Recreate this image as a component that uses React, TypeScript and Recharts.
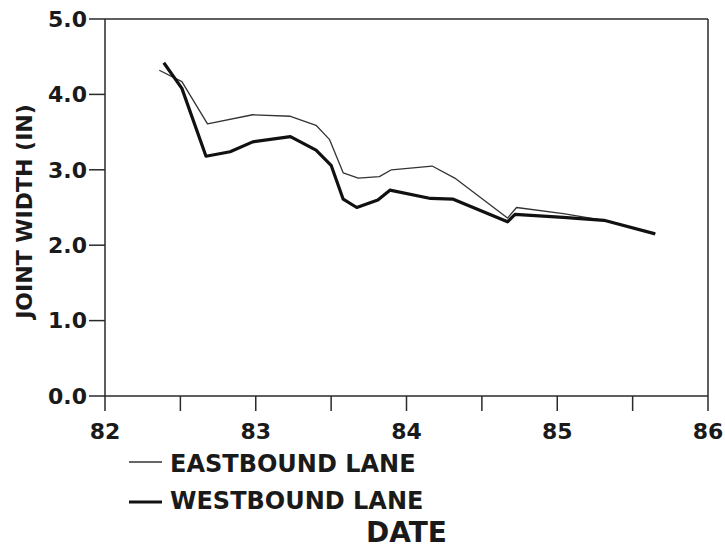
import React from 'react';
import { LineChart, Line, XAxis, YAxis, Legend, ReferenceLine } from 'recharts';

const FONT = '"DejaVu Sans", sans-serif';

// Eastbound lane (thin line)
const eastDates = [82.36, 82.51, 82.68, 82.98, 83.23, 83.4, 83.49, 83.58, 83.68, 83.82, 83.9, 84.17, 84.32, 84.67, 84.73, 85.04, 85.31, 85.65];
const eastWidths = [4.32, 4.17, 3.61, 3.73, 3.71, 3.59, 3.4, 2.96, 2.89, 2.91, 3.0, 3.05, 2.89, 2.36, 2.5, 2.42, 2.33, 2.15];

// Westbound lane (thick line)
const westDates = [82.39, 82.51, 82.67, 82.83, 82.98, 83.23, 83.4, 83.5, 83.58, 83.67, 83.81, 83.89, 84.16, 84.31, 84.67, 84.72, 85.04, 85.31, 85.65];
const westWidths = [4.42, 4.08, 3.18, 3.24, 3.37, 3.44, 3.26, 3.06, 2.61, 2.5, 2.6, 2.73, 2.62, 2.61, 2.31, 2.41, 2.37, 2.33, 2.15];

const xTicks = [82, 82.5, 83, 83.5, 84, 84.5, 85, 85.5, 86];
const yTicks = [0, 1, 2, 3, 4, 5];

const eastData = eastDates.map((d, i) => ({ date: d, width: eastWidths[i] }));
const westData = westDates.map((d, i) => ({ date: d, width: westWidths[i] }));

const XTick = (props: any) => {
  const { x, y, payload } = props;
  if (!Number.isInteger(payload.value)) return null;
  return (
    <text x={x} y={y} dy="0.71em" textAnchor="middle" fontFamily={FONT} fontWeight="bold" fontSize={22} fill="#1a1a1a">
      {payload.value}
    </text>
  );
};

const DateLabel = (props: any) => {
  const { viewBox } = props;
  return (
    <text x={viewBox.x + viewBox.width / 2} y={viewBox.y + viewBox.height - 7} textAnchor="middle" fontFamily={FONT} fontWeight="bold" fontSize={28} fill="#1a1a1a">
      DATE
    </text>
  );
};

const WidthLabel = (props: any) => {
  const { viewBox } = props;
  const cx = viewBox.x + 24;
  const cy = viewBox.y + viewBox.height / 2 + 4;
  return (
    <text x={cx} y={cy} transform={`rotate(-90, ${cx}, ${cy})`} textAnchor="middle" dominantBaseline="central" fontFamily={FONT} fontWeight="bold" fontSize={22} fill="#1a1a1a">
      JOINT WIDTH (IN)
    </text>
  );
};

const LaneLegend = () => (
  <svg width={320} height={80}>
    <line x1={9} x2={42} y1={17} y2={17} stroke="#333" strokeWidth={1.3} />
    <text x={50} y={27} fontFamily={FONT} fontWeight="bold" fontSize={24} fill="#1a1a1a">EASTBOUND LANE</text>
    <line x1={9} x2={42} y1={57} y2={57} stroke="#111" strokeWidth={3.2} />
    <text x={50} y={64} fontFamily={FONT} fontWeight="bold" fontSize={24} fill="#1a1a1a">WESTBOUND LANE</text>
  </svg>
);

export default function App() {
  return (
    <div style={{ position: 'absolute', left: 0, top: 0, background: '#fff' }}>
      <LineChart width={725} height={549} margin={{ top: 19, right: 17, left: 0, bottom: 0 }}>
        <XAxis
          dataKey="date"
          type="number"
          domain={[82, 86]}
          ticks={xTicks}
          allowDuplicatedCategory={false}
          height={153}
          tickSize={15}
          tickMargin={12}
          tick={<XTick />}
          stroke="#2a2a2a"
          strokeWidth={1.5}
          label={<DateLabel />}
        />
        <YAxis
          type="number"
          domain={[0, 5]}
          ticks={yTicks}
          width={105}
          tickSize={16}
          tickMargin={2}
          tickFormatter={(v: number) => v.toFixed(1)}
          tick={{ fontFamily: FONT, fontWeight: 'bold', fontSize: 22, fill: '#1a1a1a' }}
          stroke="#2a2a2a"
          strokeWidth={1.5}
          label={<WidthLabel />}
        />
        <ReferenceLine y={5} stroke="#2a2a2a" strokeWidth={1.5} />
        <ReferenceLine x={86} stroke="#2a2a2a" strokeWidth={1.5} />
        <Line data={eastData} dataKey="width" name="EASTBOUND LANE" stroke="#333" strokeWidth={1.3} dot={false} isAnimationActive={false} strokeLinejoin="round" />
        <Line data={westData} dataKey="width" name="WESTBOUND LANE" stroke="#111" strokeWidth={3.2} dot={false} isAnimationActive={false} strokeLinejoin="round" />
        <Legend
          layout="horizontal"
          align="center"
          verticalAlign="middle"
          content={<LaneLegend />}
          wrapperStyle={{ position: 'absolute', left: 120, top: 445, width: 320, height: 80 }}
        />
      </LineChart>
    </div>
  );
}
